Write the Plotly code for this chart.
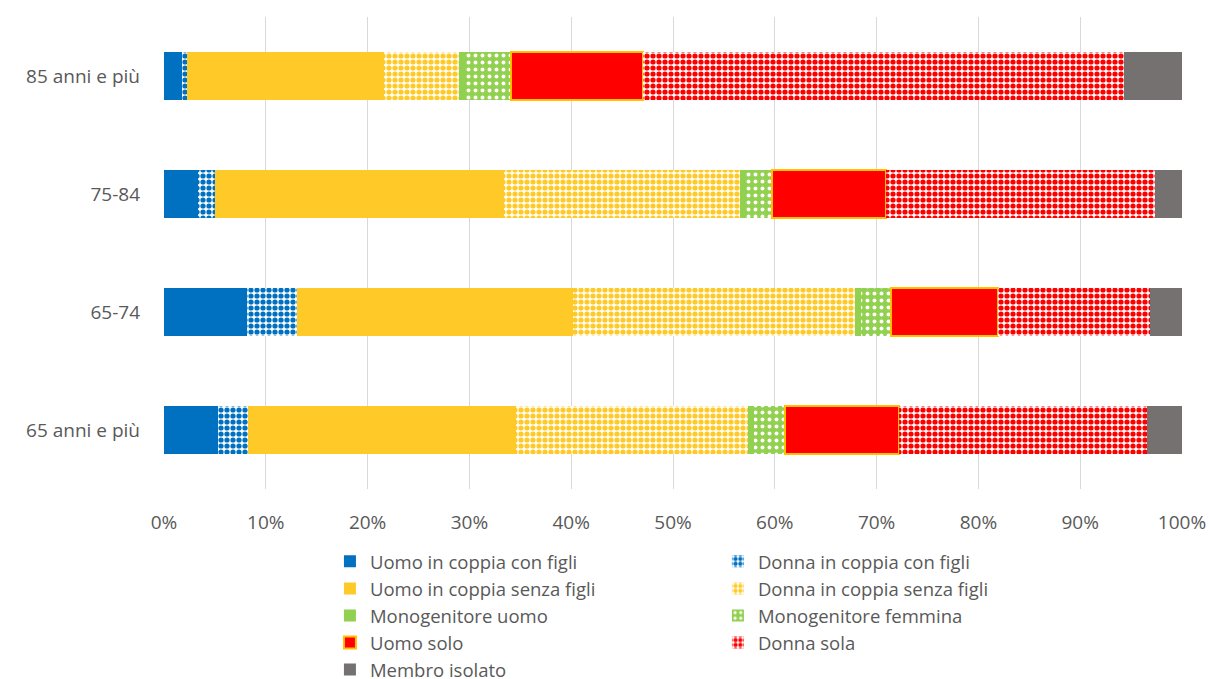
import plotly.graph_objects as go

categories = ["65 anni e più", "65-74", "75-84", "85 anni e più"]

uomo_coppia_figli = [5.3, 8.2, 3.3, 1.8]
donna_coppia_figli = [3.0, 4.9, 1.7, 0.5]
uomo_coppia_senza = [26.3, 27.1, 28.4, 19.3]
donna_coppia_senza = [22.8, 27.7, 23.2, 7.4]
mono_uomo = [0.6, 0.6, 0.6, 0.7]
mono_femmina = [3.0, 2.9, 2.5, 4.4]
uomo_solo = [11.2, 10.5, 11.2, 13.0]
donna_sola = [24.4, 15.0, 26.4, 47.2]
membro_isolato = [3.4, 3.1, 2.7, 5.7]

x_ticks = [0, 10, 20, 30, 40, 50, 60, 70, 80, 90, 100]
x_tick_labels = ["0%", "10%", "20%", "30%", "40%", "50%", "60%", "70%", "80%", "90%", "100%"]

BLUE = "#0070C0"
YELLOW = "#FFCA28"
GREEN = "#92D050"
RED = "#FF0000"
GRAY = "#767171"
TXT = "#595959"
FONT = "Open Sans"

series = [
    ("Uomo in coppia con figli", uomo_coppia_figli, BLUE, None),
    ("Donna in coppia con figli", donna_coppia_figli, BLUE, "check"),
    ("Uomo in coppia senza figli", uomo_coppia_senza, YELLOW, None),
    ("Donna in coppia senza figli", donna_coppia_senza, YELLOW, "check"),
    ("Monogenitore uomo", mono_uomo, GREEN, None),
    ("Monogenitore femmina", mono_femmina, GREEN, "dash"),
    ("Uomo solo", uomo_solo, RED, "border"),
    ("Donna sola", donna_sola, RED, "check"),
    ("Membro isolato", membro_isolato, GRAY, None),
]

fig = go.Figure()
for name, vals, color, style in series:
    marker = dict(color=color, line=dict(width=0))
    if style == "check":
        marker = dict(color="white", line=dict(width=0),
                      pattern=dict(shape=".", fgcolor=color, bgcolor="white",
                                   size=6, solidity=0.6, fillmode="replace"))
    elif style == "dash":
        marker = dict(color=GREEN, line=dict(width=0),
                      pattern=dict(shape=".", fgcolor="white", bgcolor=GREEN,
                                   size=7, solidity=0.25, fillmode="replace"))
    elif style == "border":
        marker = dict(color=RED, line=dict(color="#FFC000", width=2))
    fig.add_trace(go.Bar(
        name=name, y=categories, x=vals, orientation="h", marker=marker,
    ))

fig.update_layout(
    barmode="stack",
    bargap=0.6,
    width=1210, height=679,
    margin=dict(l=164, r=28, t=17, b=190, autoexpand=False),
    paper_bgcolor="white", plot_bgcolor="white",
    font=dict(family=FONT, size=19, color=TXT),
    showlegend=True,
    legend=dict(
        orientation="h", x=0.163, xanchor="left", y=-0.114, yanchor="top",
        entrywidth=343, font=dict(family=FONT, size=18.5, color=TXT),
        traceorder="normal", itemclick=False,
    ),
    xaxis=dict(
        range=[0, 100], tickmode="array", tickvals=x_ticks, ticktext=x_tick_labels,
        showgrid=True, gridcolor="#D9D9D9", gridwidth=1,
        zeroline=False, showline=False, ticks="", ticklabelstandoff=20,
        tickfont=dict(family=FONT, size=19, color=TXT),
    ),
    yaxis=dict(
        categoryorder="array", categoryarray=categories,
        showgrid=False, zeroline=False, showline=False, ticks="",
        ticklabelstandoff=23, tickfont=dict(family=FONT, size=19, color=TXT),
    ),
)

fig.write_html("out.html", config={"displayModeBar": False},
               post_script="document.body.style.margin='0';")
